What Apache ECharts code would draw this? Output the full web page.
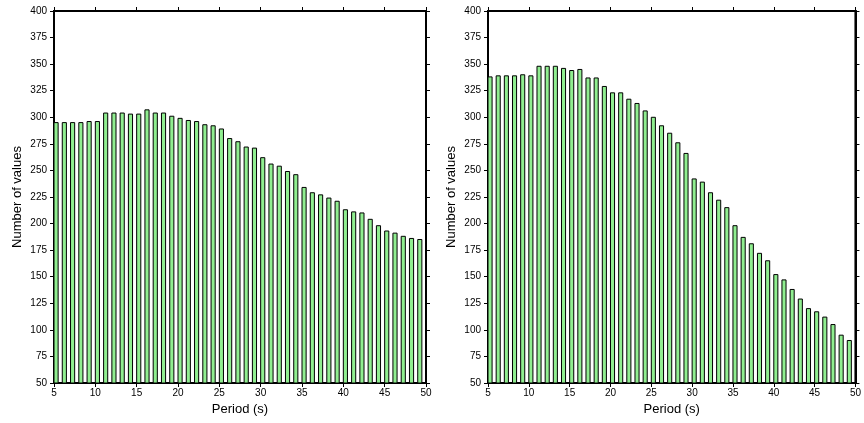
<!DOCTYPE html>
<html>
<head>
<meta charset="utf-8">
<script src="https://cdn.jsdelivr.net/npm/echarts@6/dist/echarts.min.js"></script>
<style>
  html, body { margin: 0; padding: 0; background: #fff; }
  #chart { width: 864px; height: 423px; }
</style>
</head>
<body>
<div id="chart"></div>
<script>
// Periods (s) with one bar per period
const periods = [5, 6, 7, 8, 9, 10, 11, 12, 13, 14, 15, 16, 17, 18, 19, 20, 21, 22, 23, 24, 25, 26, 27,
  28, 29, 30, 31, 32, 33, 34, 35, 36, 37, 38, 39, 40, 41, 42, 43, 44, 45, 46, 47, 48, 49];

// Number of values per period, left panel
const leftCounts = [295, 295, 295, 295, 296, 296, 304, 304, 304, 303, 303, 307, 304, 304, 301, 299, 297,
  296, 293, 292, 289, 280, 277, 272, 271, 262, 256, 254, 249, 246, 234, 229, 227, 224, 221, 213, 211,
  210, 204, 198, 193, 191, 188, 186, 185];

// Number of values per period, right panel
const rightCounts = [338, 339, 339, 339, 340, 339, 348, 348, 348, 346, 344, 345, 337, 337, 329, 323, 323,
  317, 313, 306, 300, 292, 285, 276, 266, 242, 239, 229, 222, 215, 198, 187, 181, 172, 165, 152, 147,
  138, 129, 120, 117, 112, 105, 95, 90];

const periodMin = 5, periodMax = 50, periodStep = 5;
const countMin = 50, countMax = 400, countStep = 25;
const barSpan = 0.5; // bar width in period units, drawn from p to p + barSpan

const FONT = "'Liberation Sans', Arial, sans-serif";
const panels = [
  { left: 54, counts: leftCounts },
  { left: 488, counts: rightCounts }
];

const grids = [], xAxes = [], yAxes = [], series = [];

panels.forEach((p, i) => {
  grids.push({
    left: p.left, top: 11, width: 372, height: 372,
    show: true, borderColor: '#000', borderWidth: 2, backgroundColor: 'transparent'
  });
  const tick = { show: true, length: 4, lineStyle: { color: '#000', width: 1 } };
  // bottom axis (labelled) and top axis (ticks only)
  xAxes.push({
    type: 'value', gridIndex: i, position: 'bottom', min: periodMin, max: periodMax, interval: periodStep,
    name: 'Period (s)', nameLocation: 'middle', nameGap: 18,
    nameTextStyle: { fontFamily: FONT, fontSize: 13, color: '#000' },
    axisLine: { show: true, lineStyle: { color: '#000', width: 2 } },
    axisTick: tick, splitLine: { show: false },
    axisLabel: { fontFamily: FONT, fontSize: 10, color: '#000', margin: 5 }
  });
  xAxes.push({
    type: 'value', gridIndex: i, position: 'top', min: periodMin, max: periodMax, interval: periodStep,
    axisLine: { show: true, lineStyle: { color: '#000', width: 2 } },
    axisTick: tick, splitLine: { show: false }, axisLabel: { show: false }
  });
  // left axis (labelled) and right axis (ticks only)
  yAxes.push({
    type: 'value', gridIndex: i, position: 'left', min: countMin, max: countMax, interval: countStep,
    name: 'Number of values', nameLocation: 'middle', nameGap: 30, nameRotate: 90,
    nameTextStyle: { fontFamily: FONT, fontSize: 13, color: '#000' },
    axisLine: { show: true, lineStyle: { color: '#000', width: 2 } },
    axisTick: tick, splitLine: { show: false },
    axisLabel: { fontFamily: FONT, fontSize: 10, color: '#000', margin: 7 }
  });
  yAxes.push({
    type: 'value', gridIndex: i, position: 'right', min: countMin, max: countMax, interval: countStep,
    axisLine: { show: true, lineStyle: { color: '#000', width: 2 } },
    axisTick: tick, splitLine: { show: false }, axisLabel: { show: false }
  });

  series.push({
    type: 'custom',
    xAxisIndex: i * 2, yAxisIndex: i * 2,
    clip: true,
    data: periods.map((per, k) => [per, p.counts[k]]),
    renderItem: function (params, api) {
      const x0 = api.value(0), v = api.value(1);
      const topLeft = api.coord([x0, v]);
      const botRight = api.coord([x0 + barSpan, countMin]);
      return {
        type: 'rect',
        shape: {
          x: topLeft[0], y: topLeft[1],
          width: botRight[0] - topLeft[0], height: botRight[1] - topLeft[1]
        },
        style: { fill: '#90ee90', stroke: '#000', lineWidth: 1 }
      };
    },
    z: 1
  });
});

const chart = echarts.init(document.getElementById('chart'), null, { renderer: 'canvas' });
chart.setOption({
  animation: false,
  backgroundColor: '#fff',
  grid: grids,
  xAxis: xAxes,
  yAxis: yAxes,
  series: series
});
</script>
</body>
</html>
